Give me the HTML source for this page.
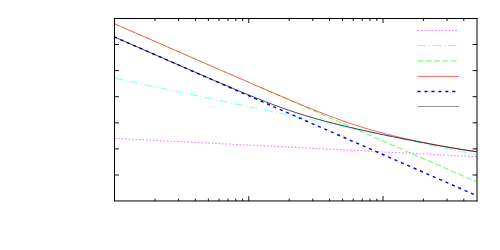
<!DOCTYPE html><html><head><meta charset="utf-8"><style>html,body{margin:0;padding:0;background:#fff;font-family:"Liberation Sans",sans-serif;}svg{display:block}</style></head><body>
<svg width="500" height="250" viewBox="0 0 500 250">
<rect width="500" height="250" fill="#fff"/>
<polyline points="114.80,138.39 476.80,156.61" fill="none" stroke="#ff00ff" stroke-width="0.6" stroke-dasharray="1.5 1.967"/>
<polyline points="114.80,78.36 476.80,154.92" fill="none" stroke="#00ffff" stroke-width="0.52" stroke-dasharray="8.4 2.93 1.2 2.74"/>
<polyline points="114.80,23.91 262.00,88.17" fill="none" stroke="#00ff00" stroke-width="0.43" stroke-dasharray="4.8 3.55" stroke-dashoffset="0.3"/>
<polyline points="262.00,88.17 476.80,181.94" fill="none" stroke="#00ff00" stroke-width="0.65" stroke-dasharray="5.8 2.55" stroke-dashoffset="2.765"/>
<polyline points="114.80,23.91 117.82,25.23 120.83,26.55 123.85,27.86 126.87,29.18 129.88,30.50 132.90,31.81 135.92,33.13 138.93,34.45 141.95,35.76 144.97,37.08 147.98,38.40 151.00,39.71 154.02,41.03 157.03,42.35 160.05,43.66 163.07,44.98 166.08,46.30 169.10,47.61 172.12,48.93 175.13,50.25 178.15,51.56 181.17,52.88 184.18,54.20 187.20,55.51 190.22,56.83 193.23,58.14 196.25,59.46 199.27,60.78 202.28,62.09 205.30,63.41 208.32,64.72 211.33,66.04 214.35,67.35 217.37,68.67 220.38,69.98 223.40,71.29 226.42,72.61 229.43,73.92 232.45,75.23 235.47,76.54 238.48,77.85 241.50,79.17 244.52,80.47 247.53,81.78 250.55,83.09 253.57,84.40 256.58,85.70 259.60,87.01 262.62,88.31 265.63,89.61 268.65,90.91 271.67,92.20 274.68,93.50 277.70,94.79 280.72,96.07 283.73,97.36 286.75,98.63 289.77,99.91 292.78,101.18 295.80,102.44 298.82,103.70 301.83,104.95 304.85,106.20 307.87,107.43 310.88,108.66 313.90,109.87 316.92,111.08 319.93,112.27 322.95,113.45 325.97,114.62 328.98,115.77 332.00,116.91 335.02,118.03 338.03,119.13 341.05,120.22 344.07,121.28 347.08,122.33 350.10,123.35 353.12,124.36 356.13,125.34 359.15,126.30 362.17,127.24 365.18,128.16 368.20,129.05 371.22,129.93 374.23,130.78 377.25,131.62 380.27,132.44 383.28,133.23 386.30,134.01 389.32,134.78 392.33,135.52 395.35,136.26 398.37,136.97 401.38,137.68 404.40,138.36 407.42,139.04 410.43,139.71 413.45,140.36 416.47,141.00 419.48,141.63 422.50,142.25 425.52,142.87 428.53,143.47 431.55,144.06 434.57,144.64 437.58,145.21 440.60,145.77 443.62,146.33 446.63,146.87 449.65,147.40 452.67,147.93 455.68,148.44 458.70,148.94 461.72,149.44 464.73,149.92 467.75,150.39 470.77,150.85 473.78,151.30 476.80,151.74" fill="none" stroke="#ff0000" stroke-width="0.63"/>
<polyline points="114.80,37.11 476.80,195.64" fill="none" stroke="#0000ff" stroke-width="1.45" stroke-dasharray="3.1 3.86" stroke-dashoffset="0.9"/>
<polyline points="114.80,37.11 117.82,38.43 120.83,39.75 123.85,41.07 126.87,42.39 129.88,43.71 132.90,45.03 135.92,46.35 138.93,47.67 141.95,48.99 144.97,50.31 147.98,51.63 151.00,52.95 154.02,54.27 157.03,55.59 160.05,56.91 163.07,58.22 166.08,59.54 169.10,60.86 172.12,62.17 175.13,63.49 178.15,64.81 181.17,66.12 184.18,67.44 187.20,68.75 190.22,70.06 193.23,71.37 196.25,72.68 199.27,73.99 202.28,75.30 205.30,76.60 208.32,77.90 211.33,79.21 214.35,80.50 217.37,81.80 220.38,83.09 223.40,84.38 226.42,85.66 229.43,86.94 232.45,88.22 235.47,89.49 238.48,90.75 241.50,92.01 244.52,93.26 247.53,94.50 250.55,95.74 253.57,96.96 256.58,98.17 259.60,99.37 262.62,100.56 265.63,101.74 268.65,102.90 271.67,104.05 274.68,105.18 277.70,106.29 280.72,107.38 283.73,108.46 286.75,109.52 289.77,110.55 292.78,111.57 295.80,112.57 298.82,113.54 301.83,114.50 304.85,115.43 307.87,116.34 310.88,117.24 313.90,118.11 316.92,118.97 319.93,119.80 322.95,120.63 325.97,121.43 328.98,122.22 332.00,122.99 335.02,123.75 338.03,124.50 341.05,125.24 344.07,125.96 347.08,126.68 350.10,127.38 353.12,128.08 356.13,128.77 359.15,129.45 362.17,130.12 365.18,130.79 368.20,131.45 371.22,132.11 374.23,132.76 377.25,133.41 380.27,134.05 383.28,134.69 386.30,135.32 389.32,135.95 392.33,136.57 395.35,137.19 398.37,137.81 401.38,138.42 404.40,139.02 407.42,139.63 410.43,140.23 413.45,140.82 416.47,141.41 419.48,141.99 422.50,142.57 425.52,143.14 428.53,143.71 431.55,144.27 434.57,144.83 437.58,145.37 440.60,145.92 443.62,146.45 446.63,146.98 449.65,147.50 452.67,148.01 455.68,148.51 458.70,149.00 461.72,149.49 464.73,149.96 467.75,150.43 470.77,150.89 473.78,151.33 476.80,151.77" fill="none" stroke="#000000" stroke-width="0.72"/>
<line x1="417.50" y1="30.50" x2="459.00" y2="30.50" stroke="#ff00ff" stroke-width="0.6" stroke-dasharray="1.5 1.967"/>
<line x1="417.50" y1="45.60" x2="459.00" y2="45.60" stroke="#00ffff" stroke-width="0.52" stroke-dasharray="8.4 2.93 1.2 2.74"/>
<line x1="417.50" y1="60.95" x2="459.00" y2="60.95" stroke="#00ff00" stroke-width="0.65" stroke-dasharray="5.8 2.55"/>
<line x1="417.50" y1="76.40" x2="459.00" y2="76.40" stroke="#ff0000" stroke-width="0.63"/>
<line x1="417.50" y1="91.45" x2="459.00" y2="91.45" stroke="#0000ff" stroke-width="1.45" stroke-dasharray="3.1 3.86"/>
<line x1="417.50" y1="106.50" x2="459.00" y2="106.50" stroke="#000000" stroke-width="0.42"/>
<line x1="155.00" y1="18.50" x2="155.00" y2="21.00" stroke="#000" stroke-width="0.95"/>
<line x1="155.00" y1="200.95" x2="155.00" y2="198.65" stroke="#000" stroke-width="0.95"/>
<line x1="178.63" y1="18.50" x2="178.63" y2="21.00" stroke="#000" stroke-width="0.95"/>
<line x1="178.63" y1="200.95" x2="178.63" y2="198.65" stroke="#000" stroke-width="0.95"/>
<line x1="195.40" y1="18.50" x2="195.40" y2="21.00" stroke="#000" stroke-width="0.95"/>
<line x1="195.40" y1="200.95" x2="195.40" y2="198.65" stroke="#000" stroke-width="0.95"/>
<line x1="208.40" y1="18.50" x2="208.40" y2="21.00" stroke="#000" stroke-width="0.95"/>
<line x1="208.40" y1="200.95" x2="208.40" y2="198.65" stroke="#000" stroke-width="0.95"/>
<line x1="219.03" y1="18.50" x2="219.03" y2="21.00" stroke="#000" stroke-width="0.95"/>
<line x1="219.03" y1="200.95" x2="219.03" y2="198.65" stroke="#000" stroke-width="0.95"/>
<line x1="228.01" y1="18.50" x2="228.01" y2="21.00" stroke="#000" stroke-width="0.95"/>
<line x1="228.01" y1="200.95" x2="228.01" y2="198.65" stroke="#000" stroke-width="0.95"/>
<line x1="235.79" y1="18.50" x2="235.79" y2="21.00" stroke="#000" stroke-width="0.95"/>
<line x1="235.79" y1="200.95" x2="235.79" y2="198.65" stroke="#000" stroke-width="0.95"/>
<line x1="242.66" y1="18.50" x2="242.66" y2="21.00" stroke="#000" stroke-width="0.95"/>
<line x1="242.66" y1="200.95" x2="242.66" y2="198.65" stroke="#000" stroke-width="0.95"/>
<line x1="248.80" y1="18.50" x2="248.80" y2="23.00" stroke="#000" stroke-width="0.95"/>
<line x1="248.80" y1="200.95" x2="248.80" y2="196.15" stroke="#000" stroke-width="0.95"/>
<line x1="289.20" y1="18.50" x2="289.20" y2="21.00" stroke="#000" stroke-width="0.95"/>
<line x1="289.20" y1="200.95" x2="289.20" y2="198.65" stroke="#000" stroke-width="0.95"/>
<line x1="312.83" y1="18.50" x2="312.83" y2="21.00" stroke="#000" stroke-width="0.95"/>
<line x1="312.83" y1="200.95" x2="312.83" y2="198.65" stroke="#000" stroke-width="0.95"/>
<line x1="329.60" y1="18.50" x2="329.60" y2="21.00" stroke="#000" stroke-width="0.95"/>
<line x1="329.60" y1="200.95" x2="329.60" y2="198.65" stroke="#000" stroke-width="0.95"/>
<line x1="342.60" y1="18.50" x2="342.60" y2="21.00" stroke="#000" stroke-width="0.95"/>
<line x1="342.60" y1="200.95" x2="342.60" y2="198.65" stroke="#000" stroke-width="0.95"/>
<line x1="353.23" y1="18.50" x2="353.23" y2="21.00" stroke="#000" stroke-width="0.95"/>
<line x1="353.23" y1="200.95" x2="353.23" y2="198.65" stroke="#000" stroke-width="0.95"/>
<line x1="362.21" y1="18.50" x2="362.21" y2="21.00" stroke="#000" stroke-width="0.95"/>
<line x1="362.21" y1="200.95" x2="362.21" y2="198.65" stroke="#000" stroke-width="0.95"/>
<line x1="369.99" y1="18.50" x2="369.99" y2="21.00" stroke="#000" stroke-width="0.95"/>
<line x1="369.99" y1="200.95" x2="369.99" y2="198.65" stroke="#000" stroke-width="0.95"/>
<line x1="376.86" y1="18.50" x2="376.86" y2="21.00" stroke="#000" stroke-width="0.95"/>
<line x1="376.86" y1="200.95" x2="376.86" y2="198.65" stroke="#000" stroke-width="0.95"/>
<line x1="383.00" y1="18.50" x2="383.00" y2="23.00" stroke="#000" stroke-width="0.95"/>
<line x1="383.00" y1="200.95" x2="383.00" y2="196.15" stroke="#000" stroke-width="0.95"/>
<line x1="423.40" y1="18.50" x2="423.40" y2="21.00" stroke="#000" stroke-width="0.95"/>
<line x1="423.40" y1="200.95" x2="423.40" y2="198.65" stroke="#000" stroke-width="0.95"/>
<line x1="447.03" y1="18.50" x2="447.03" y2="21.00" stroke="#000" stroke-width="0.95"/>
<line x1="447.03" y1="200.95" x2="447.03" y2="198.65" stroke="#000" stroke-width="0.95"/>
<line x1="463.80" y1="18.50" x2="463.80" y2="21.00" stroke="#000" stroke-width="0.95"/>
<line x1="463.80" y1="200.95" x2="463.80" y2="198.65" stroke="#000" stroke-width="0.95"/>
<line x1="114.50" y1="44.50" x2="118.90" y2="44.50" stroke="#000" stroke-width="0.95"/>
<line x1="477.00" y1="44.50" x2="472.60" y2="44.50" stroke="#000" stroke-width="0.95"/>
<line x1="114.50" y1="70.60" x2="118.90" y2="70.60" stroke="#000" stroke-width="0.95"/>
<line x1="477.00" y1="70.60" x2="472.60" y2="70.60" stroke="#000" stroke-width="0.95"/>
<line x1="114.50" y1="96.70" x2="118.90" y2="96.70" stroke="#000" stroke-width="0.95"/>
<line x1="477.00" y1="96.70" x2="472.60" y2="96.70" stroke="#000" stroke-width="0.95"/>
<line x1="114.50" y1="122.80" x2="118.90" y2="122.80" stroke="#000" stroke-width="0.95"/>
<line x1="477.00" y1="122.80" x2="472.60" y2="122.80" stroke="#000" stroke-width="0.95"/>
<line x1="114.50" y1="148.90" x2="118.90" y2="148.90" stroke="#000" stroke-width="0.95"/>
<line x1="477.00" y1="148.90" x2="472.60" y2="148.90" stroke="#000" stroke-width="0.95"/>
<line x1="114.50" y1="175.00" x2="118.90" y2="175.00" stroke="#000" stroke-width="0.95"/>
<line x1="477.00" y1="175.00" x2="472.60" y2="175.00" stroke="#000" stroke-width="0.95"/>
<line x1="114.50" y1="18.00" x2="114.50" y2="201.45" stroke="#000" stroke-width="1"/>
<line x1="114.00" y1="18.50" x2="477.50" y2="18.50" stroke="#000" stroke-width="1"/>
<line x1="477.00" y1="18.00" x2="477.00" y2="201.45" stroke="#000" stroke-width="1"/>
<line x1="114.00" y1="200.95" x2="477.50" y2="200.95" stroke="#000" stroke-width="1"/>
</svg></body></html>
